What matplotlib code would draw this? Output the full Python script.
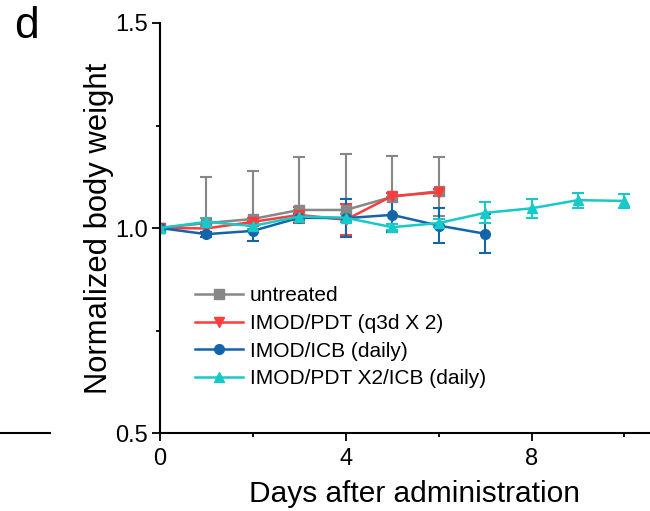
import numpy as np
import matplotlib
matplotlib.use("Agg")
import matplotlib.pyplot as plt
from matplotlib.lines import Line2D
from matplotlib.ticker import MultipleLocator

plt.rcParams['font.family'] = ['Liberation Sans', 'DejaVu Sans']

# Data
days_untreated = [0, 1, 2, 3, 4, 5, 6]
untreated = [1.000, 1.012, 1.022, 1.044, 1.044, 1.076, 1.090]
untreated_lo = [0, 0, 0, 0, 0, 0, 0.06]
untreated_hi = [0, 0.113, 0.118, 0.128, 0.137, 0.100, 0.084]

days_pdt = [0, 1, 2, 3, 4, 5, 6]
pdt = [1.000, 0.999, 1.015, 1.032, 1.020, 1.078, 1.087]
pdt_err = [0, 0.008, 0.010, 0.020, 0.038, 0.008, 0.008]

days_icb = [0, 1, 2, 3, 4, 5, 6, 7]
icb = [1.000, 0.985, 0.993, 1.025, 1.024, 1.032, 1.006, 0.986]
icb_err = [0, 0.006, 0.024, 0.010, 0.047, 0.042, 0.043, 0.048]

days_combo = [0, 1, 2, 3, 4, 5, 6, 7, 8, 9, 10]
combo = [1.000, 1.015, 1.005, 1.028, 1.025, 1.002, 1.012, 1.037, 1.048, 1.068, 1.066]
combo_err = [0, 0.010, 0.008, 0.010, 0.010, 0.008, 0.010, 0.026, 0.023, 0.018, 0.018]

labels = ["untreated", "IMOD/PDT (q3d X 2)", "IMOD/ICB (daily)", "IMOD/PDT X2/ICB (daily)"]
colors = ["#878787", "#FF3B3B", "#1464AA", "#17C9C9"]
markers = ['s', 'v', 'o', '^']

fig = plt.figure(figsize=(6.5, 5.11), dpi=100)
ax = fig.add_axes([0.246, 0.1526, 0.754, 0.8024])

common = dict(lw=1.8, ms=7, capsize=4, elinewidth=1.5, capthick=1.5)
ax.errorbar(days_untreated, untreated, yerr=[untreated_lo, untreated_hi], color=colors[0],
            marker=markers[0], **common)
ax.errorbar(days_pdt, pdt, yerr=pdt_err, color=colors[1], marker=markers[1], **common)
ax.errorbar(days_icb, icb, yerr=icb_err, color=colors[2], marker=markers[2], **common)
ax.errorbar(days_combo, combo, yerr=combo_err, color=colors[3], marker=markers[3], **common)

ax.set_xlim(0, 10.55)
ax.set_ylim(0.5, 1.5)
ax.set_xticks([0, 4, 8])
ax.set_yticks([0.5, 1.0, 1.5])
ax.xaxis.set_minor_locator(MultipleLocator(2))
ax.yaxis.set_minor_locator(MultipleLocator(0.25))
ax.tick_params(which='major', direction='out', length=5.5, width=1.3, labelsize=17)
ax.tick_params(axis='x', which='major', pad=5)
ax.tick_params(axis='y', which='major', pad=3)
ax.tick_params(which='minor', direction='out', length=3, width=1.3)
for s in ['top', 'right']:
    ax.spines[s].set_visible(False)
for s in ['left', 'bottom']:
    ax.spines[s].set_linewidth(1.5)

ax.set_xlabel("Days after administration", fontsize=21.5, labelpad=9)
ax.set_ylabel("Normalized body weight", fontsize=22.3, labelpad=1)
ax.xaxis.set_label_coords(0.52, -0.115)

handles = [Line2D([], [], color=c, marker=m, lw=1.8, ms=7) for c, m in zip(colors, markers)]
ax.legend(handles, labels, loc='upper left', bbox_to_anchor=(0.071, 0.358), frameon=False,
          fontsize=15, handlelength=2.3, handletextpad=0.35, labelspacing=0.42,
          borderaxespad=0, borderpad=0)

fig.text(0.022, 0.948, "d", fontsize=32, va='center', ha='left')
fig.add_artist(Line2D([0, 0.077], [0.1526, 0.1526], color='black', lw=1.5))

fig.savefig("out.png", dpi=100)
